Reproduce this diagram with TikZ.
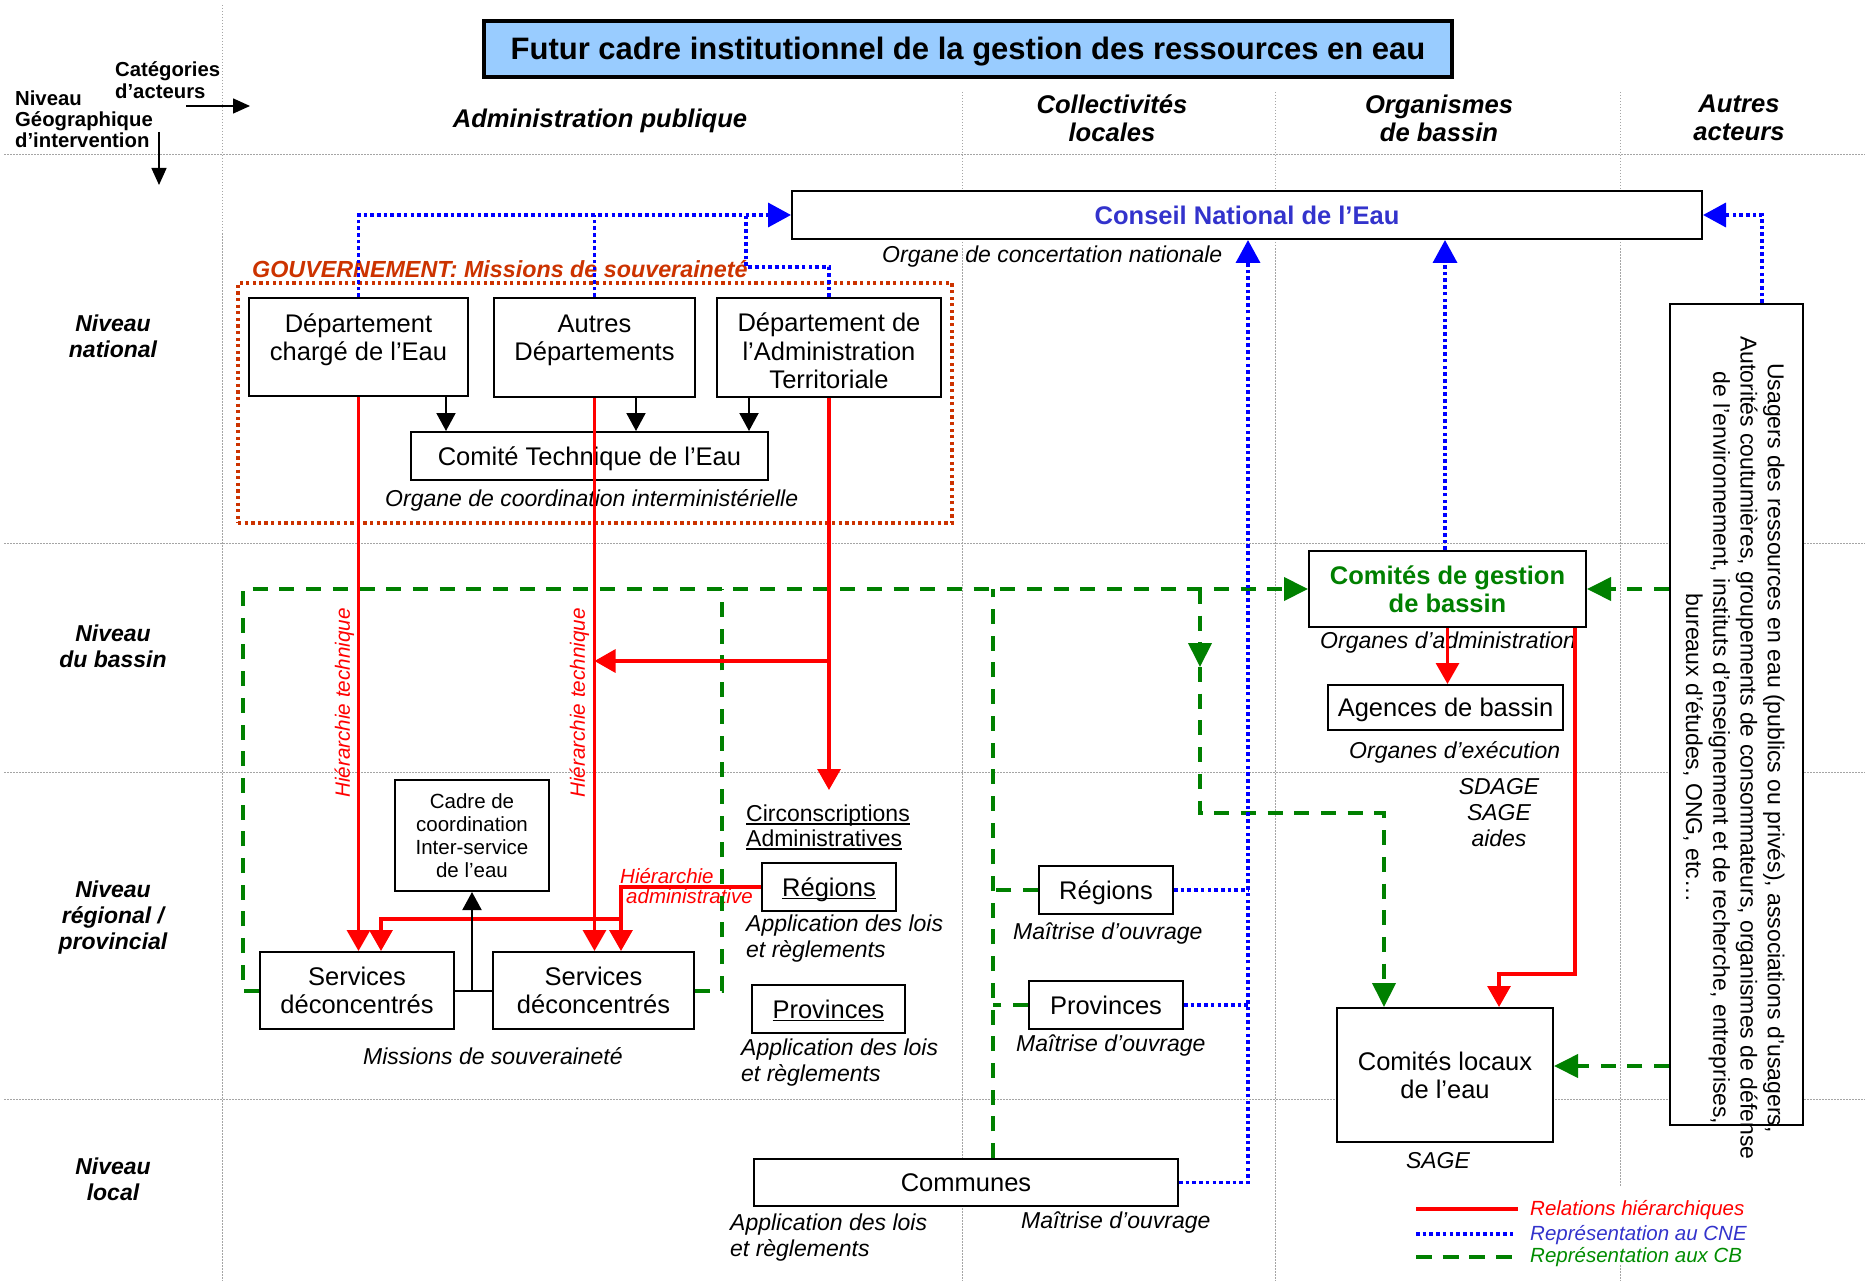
\documentclass[tikz,border=0pt]{standalone}
\usepackage{fontspec}
\setmainfont{Liberation Sans}
\usetikzlibrary{arrows.meta}
\newcommand\fsz[2]{\fontsize{#1pt}{#2pt}\selectfont}
\newcommand\myuline[1]{\setbox0=\hbox{#1}\rlap{\rule[-3pt]{\wd0}{1.4pt}}\box0}
\definecolor{tblue}{RGB}{153,204,255}
\definecolor{cneblue}{RGB}{51,51,204}
\definecolor{dgreen}{RGB}{0,128,0}
\definecolor{lgreen}{RGB}{0,140,0}
\definecolor{govred}{RGB}{204,51,0}
\definecolor{gridgray}{RGB}{165,165,165}
\begin{document}
\begin{tikzpicture}[x=1pt,y=-1pt,
  boxn/.style 2 args={draw=black, line width=2pt, fill=white, inner sep=0pt,
    minimum width=#1pt, minimum height=#2pt, align=center, font=\fsz{25.5}{28.3}},
  caph/.style={text height=18.3pt, text depth=0pt},
  txt/.style={inner sep=0pt, align=center, font=\fsz{25.5}{28.3}},
  subt/.style={inner sep=0pt, font=\fsz{23}{26}\itshape},
  hdr/.style={inner sep=0pt, align=center, font=\fsz{25.6}{28}\bfseries\itshape},
  rowl/.style={inner sep=0pt, align=center, font=\fsz{23}{26}\bfseries\itshape},
  legt/.style={inner sep=0pt, anchor=base west, font=\fsz{20.5}{24}\itshape},
  gridln/.style={draw=gridgray, line width=1pt, dash pattern=on 1.5pt off 1.5pt},
  redl/.style={draw=red, line width=3.2pt},
  rarr/.style={redl, -{Triangle[width=23pt,length=21pt]}},
  bluel/.style={draw=blue, line width=3.6pt, dash pattern=on 3.6pt off 3.1pt},
  barr/.style={bluel, -{Triangle[width=24pt,length=23pt]}},
  grn/.style={draw=dgreen, line width=4pt, dash pattern=on 15pt off 11.7pt},
  garr/.style={grn, -{Triangle[width=23pt,length=24pt]}},
  blk/.style={draw=black, line width=2pt},
  karr/.style={blk, -{Triangle[width=19pt,length=18pt]}}
]
\useasboundingbox (0,0) rectangle (1865,1281);

% ---- grid
\draw[gridln] (4,155) -- (1865,155);
\draw[gridln] (4,543) -- (1865,543);
\draw[gridln] (4,772) -- (1865,772);
\draw[gridln] (4,1099) -- (1865,1099);
\draw[gridln] (222,5) -- (222,1281);
\draw[gridln] (962,92) -- (962,1281);
\draw[gridln] (1275,92) -- (1275,1281);
\draw[gridln] (1620,92) -- (1620,1187) (1620,1265) -- (1620,1281);

% ---- title and headers
\node[draw=black, line width=4pt, fill=tblue, minimum width=968pt, minimum height=56pt,
      inner sep=0pt, font=\fsz{31}{34}\bfseries, text height=22pt, text depth=0pt]
      (title) at (968,49) {Futur cadre institutionnel de la gestion des ressources en eau};

\node[inner sep=0pt, anchor=west, align=left, font=\fsz{20.3}{22.3}\bfseries] (cat) at (115,80.4) {Catégories\\d’acteurs};
\node[inner sep=0pt, anchor=west, align=left, font=\fsz{20.3}{21}\bfseries] (geo) at (15,118.8) {Niveau\\Géographique\\d’intervention};
\coordinate (ha1) at (186,106); \coordinate (ha2) at (250,106);
\coordinate (va1) at (159,132); \coordinate (va2) at (159,185);
\draw[draw=black, line width=1.5pt, -{Triangle[width=15pt,length=17pt]}] (ha1) -- (ha2);
\draw[draw=black, line width=1.5pt, -{Triangle[width=15pt,length=17pt]}] (va1) -- (va2);

\node[hdr] (hadm) at (600,121) {Administration publique};
\node[hdr] (hcol) at (1112,118) {Collectivités\\locales};
\node[hdr] (horg) at (1439,118) {Organismes\\de bassin};
\node[hdr] (haut) at (1739,118) {Autres\\acteurs};

\node[rowl] (rnat) at (113,336) {Niveau\\national};
\node[rowl] (rbas) at (113,646.5) {Niveau\\du bassin};
\node[rowl] (rreg) at (113,917.5) {Niveau\\régional /\\provincial};
\node[rowl] (rloc) at (113,1179) {Niveau\\local};

% ---- national level
\node[boxn={910}{48}, caph, font=\fsz{25.5}{28.3}\bfseries, text=cneblue] (cne) at (1247,215) {Conseil National de l’Eau};
\node[subt, anchor=base west] (cnesub) at (882,263) {Organe de concertation nationale};

\node[draw=govred, line width=3.3pt, dash pattern=on 3.3pt off 3.3pt, minimum width=714pt,
      minimum height=240pt, inner sep=0pt] (gov) at (595,403) {};
\node[inner sep=0pt, anchor=base west, font=\fsz{23.3}{26}\bfseries\itshape, text=govred] (govlab) at (252,277) {GOUVERNEMENT: Missions de souveraineté};

\node[boxn={219}{98}] (dce) at (358.5,347) {};
\node[txt] (dcet) at (358.5,340) {Département\\chargé de l’Eau};
\node[boxn={201}{99}] (aud) at (594.5,347.5) {};
\node[txt] (audt) at (594.5,340.4) {Autres\\Départements};
\node[boxn={224}{99}] (dat) at (829,347.5) {};
\node[txt] (datt) at (829,351) {Département de\\l’Administration\\Territoriale};
\node[boxn={357}{48}, caph] (ctl) at (589.5,456) {Comité Technique de l’Eau};
\node[subt, anchor=base west] (ctlsub) at (385,506) {Organe de coordination interministérielle};

% ---- regional / local, public administration
\node[boxn={154}{111}, font=\fsz{20.5}{23}] (cadre) at (472,835.5) {Cadre de\\coordination\\Inter-service\\de l’eau};
\node[boxn={194}{77}] (sd1) at (357,990.5) {Services\\déconcentrés};
\node[boxn={201}{77}] (sd2) at (593.5,990.5) {Services\\déconcentrés};
\node[subt, anchor=base west] (msub) at (363,1064) {Missions de souveraineté};

\node[inner sep=0pt, anchor=north west, align=left, font=\fsz{23}{25}] (circ) at (746,805) {\myuline{Circonscriptions}\\\myuline{Administratives}};
\node[boxn={134}{48}, caph] (rega) at (829,887) {\myuline{Régions}};
\node[subt, anchor=north west, align=left] (appa) at (746,914.2) {Application des lois\\et règlements};
\node[boxn={153}{48}, caph] (prova) at (828.5,1009) {\myuline{Provinces}};
\node[subt, anchor=north west, align=left] (appb) at (741,1038.2) {Application des lois\\et règlements};

% ---- collectivites
\node[boxn={134}{48}, caph] (regc) at (1106,890) {Régions};
\node[subt, anchor=base west] (mo1) at (1013,939) {Maîtrise d’ouvrage};
\node[boxn={154}{48}, caph] (provc) at (1106,1005) {Provinces};
\node[subt, anchor=base west] (mo2) at (1016,1051) {Maîtrise d’ouvrage};
\node[boxn={424}{47}, caph] (comm) at (966,1182.5) {Communes};
\node[subt, anchor=north west, align=left] (appc) at (730,1213.2) {Application des lois\\et règlements};
\node[subt, anchor=base west] (mo3) at (1021,1228) {Maîtrise d’ouvrage};

% ---- basin organisms
\node[boxn={277}{76}, font=\fsz{25.5}{28.3}\bfseries, text=dgreen] (cgb) at (1447.5,589) {Comités de gestion\\de bassin};
\node[subt, anchor=base west] (oadm) at (1320,648) {Organes d’administration};
\node[boxn={235}{45}, caph] (agb) at (1445.5,707.5) {Agences de bassin};
\node[subt, anchor=base west] (oexe) at (1349,758) {Organes d’exécution};
\node[subt, anchor=north, align=center] (sdage) at (1499,778.5) {SDAGE\\SAGE\\aides};
\node[boxn={216}{134}] (cle) at (1445,1075) {Comités locaux\\de l’eau};
\node[subt, anchor=base] (sage) at (1438,1168) {SAGE};

% ---- other actors
\node[boxn={133}{821}] (aut) at (1736.5,714.5) {};
\node[inner sep=0pt, rotate=-90, align=center, font=\fsz{23}{27.2}] (autt) at (1734,748)
  {Usagers des ressources en eau (publics ou privés), associations d’usagers,\\
   Autorités coutumières, groupements de consommateurs, organismes de défense\\
   de l’environnement, instituts d’enseignement et de recherche, entreprises,\\
   bureaux d’études, ONG, etc…};

% ---- red labels
\node[inner sep=0pt, rotate=90, font=\fsz{20.7}{24}\itshape, text=red] (ht1) at (344.5,703) {Hiérarchie technique};
\node[inner sep=0pt, rotate=90, font=\fsz{20.7}{24}\itshape, text=red] (ht2) at (579.5,703) {Hiérarchie technique};
\node[inner sep=0pt, anchor=north west, align=left, font=\fsz{20.5}{20}\itshape, text=red] (hadm2) at (620,867.8) {Hiérarchie\\\hspace*{6pt}administrative};

% ---- green connectors (representation aux CB)
\draw[garr] (sd1.west) -| (cgb.west -| 243,0) -- (cgb.west);
\draw[grn] (sd2.east) -| (cgb.west -| 722,0);
\draw[grn] (comm.north -| 993,0) -- (cgb.west -| 993,0);
\draw[grn] (regc.west) -- (regc.west -| 993,0);
\draw[grn] (provc.west) -- (provc.west -| 993,0);
\coordinate (gb1) at (1200,589);
\coordinate (gb2) at (1200,667);
\draw[garr] (gb1) -- (gb2);
\draw[garr] (gb2) |- (1384,813) -- (cle.north -| 1384,0);
\draw[garr] (aut.west |- cgb.east) -- (cgb.east);
\draw[garr] (aut.west |- 0,1066) -- (cle.east |- 0,1066);

% ---- blue connectors (representation au CNE)
\draw[barr] (dce.north) |- (cne.west);
\draw[bluel] (aud.north) -- (aud.north |- cne.west);
\draw[bluel] (dat.north) |- (746,267) -- (cne.west -| 746,0);
\draw[barr] (comm.east) -| (cne.south -| 1248,0);
\draw[bluel] (regc.east) -- (regc.east -| 1248,0);
\draw[bluel] (provc.east) -- (provc.east -| 1248,0);
\draw[barr] (cgb.north -| 1445,0) -- (cne.south -| 1445,0);
\draw[barr] (aut.north -| 1762,0) |- (cne.east);

% ---- red connectors (relations hierarchiques)
\draw[rarr] (dce.south) -- (dce.south |- sd1.north);
\draw[rarr] (aud.south) -- (aud.south |- sd2.north);
\coordinate (ctip) at (829,790);
\draw[rarr] (dat.south) -- (ctip);
\draw[rarr] (dat.south |- 0,661) -- (aud.south |- 0,661);
\draw[rarr] (rega.west) -| (621,919) -| (sd1.north -| 381,0);
\draw[rarr] (621,919) -- (sd2.north -| 621,0);
\draw[rarr] (cgb.south) -- (cgb.south |- agb.north);
\draw[rarr] (cgb.south -| 1575,0) |- (1499,974) -- (cle.north -| 1499,0);

% ---- black connectors
\draw[karr] (dce.south -| 446,0) -- (ctl.north -| 446,0);
\draw[karr] (aud.south -| 636,0) -- (ctl.north -| 636,0);
\draw[karr] (dat.south -| 749,0) -- (ctl.north -| 749,0);
\draw[blk] (sd1.east) -- (sd2.west);
\draw[karr] (cadre.south |- sd1.east) -- (cadre.south);

% ---- legend
\coordinate (l1a) at (1416,1209); \coordinate (l1b) at (1518,1209);
\coordinate (l2a) at (1416,1234); \coordinate (l2b) at (1513,1234);
\coordinate (l3a) at (1416,1257); \coordinate (l3b) at (1514,1257);
\draw[redl, line width=4pt] (l1a) -- (l1b);
\draw[bluel, line width=4pt] (l2a) -- (l2b);
\draw[grn, line width=4.2pt, dash pattern=on 16pt off 10.7pt] (l3a) -- (l3b);
\node[legt, text=red] (lg1) at (1530,1215) {Relations hiérarchiques};
\node[legt, text=cneblue] (lg2) at (1530,1240) {Représentation au CNE};
\node[legt, text=lgreen] (lg3) at (1530,1262) {Représentation aux CB};
\end{tikzpicture}
\end{document}
